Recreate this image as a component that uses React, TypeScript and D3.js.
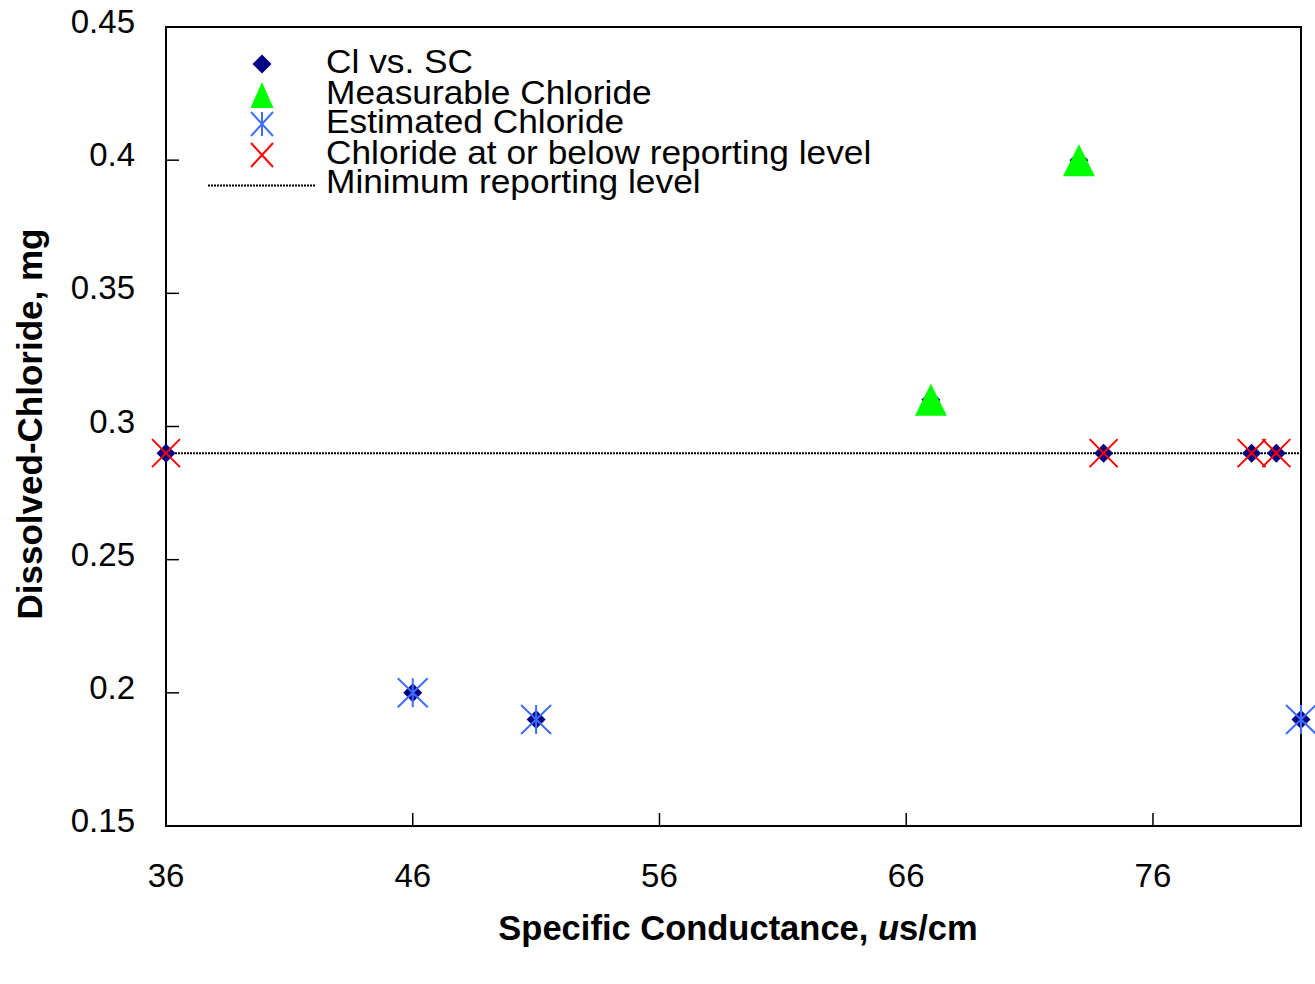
import { useEffect, useRef } from 'react';
import * as d3 from 'd3';

// Cl vs. SC (all samples)
const allSC = [36, 46, 51, 67, 73, 74, 80, 81, 82];
const allCl = [0.29, 0.2, 0.19, 0.31, 0.4, 0.29, 0.29, 0.29, 0.19];
// Measurable chloride
const measSC = [67, 73];
const measCl = [0.31, 0.4];
// Estimated chloride
const estSC = [46, 51, 82];
const estCl = [0.2, 0.19, 0.19];
// At or below reporting level
const lowSC = [36, 74, 80, 81];
const lowCl = [0.29, 0.29, 0.29, 0.29];
const reportingLevel = 0.29;

const xTicks = [36, 46, 56, 66, 76];
const yTicks = [0.15, 0.2, 0.25, 0.3, 0.35, 0.4, 0.45];
const legendLabels = [
    "Cl vs. SC",
    "Measurable Chloride",
    "Estimated Chloride",
    "Chloride at or below reporting level",
    "Minimum reporting level",
];

const NAVY = "#000080";
const GREEN = "#00ff00";
const BLUE = "#3d6dff";
const RED = "#ff0000";

export default function App() {
    const svgRef = useRef<SVGSVGElement>(null);
    const width = 1315;
    const height = 984;

    useEffect(() => {
        if (!svgRef.current) return;
        const svg = d3.select(svgRef.current);
        svg.selectAll("*").remove();

        const margin = { top: 27, right: 14, bottom: 158, left: 166 };
        const x = d3.scaleLinear().domain([36, 82]).range([margin.left, width - margin.right]);
        const y = d3.scaleLinear().domain([0.15, 0.45]).range([height - margin.bottom, margin.top]);
        const font = "'Liberation Sans', Arial, sans-serif";

        const zip = (a: number[], b: number[]) => a.map((v, i) => [v, b[i]] as [number, number]);

        // marker shapes
        const diamond = (s: number) => `M0,${-s}L${s},0L0,${s}L${-s},0Z`;
        const triangle = (w: number, h: number) => `M0,${-h / 2}L${w / 2},${h / 2}L${-w / 2},${h / 2}Z`;
        const cross = (w: number, h: number) => `M${-w},${-h}L${w},${h}M${-w},${h}L${w},${-h}`;
        const asterisk = (w: number, h: number) => cross(w, h) + `M0,${-h}L0,${h}`;

        // reporting level line
        svg.append("line")
            .attr("x1", x(36)).attr("x2", x(82))
            .attr("y1", y(reportingLevel)).attr("y2", y(reportingLevel))
            .attr("stroke", "#000").attr("stroke-width", 2)
            .attr("stroke-dasharray", "2,1");

        // frame
        svg.append("rect")
            .attr("x", x(36)).attr("y", y(0.45))
            .attr("width", x(82) - x(36)).attr("height", y(0.15) - y(0.45))
            .attr("fill", "none").attr("stroke", "#000").attr("stroke-width", 2);

        // ticks (inward)
        svg.selectAll(".xt").data(xTicks).enter().append("line")
            .attr("x1", d => x(d)).attr("x2", d => x(d))
            .attr("y1", y(0.15)).attr("y2", y(0.15) - 13)
            .attr("stroke", "#000").attr("stroke-width", 1.5);
        svg.selectAll(".yt").data(yTicks).enter().append("line")
            .attr("x1", x(36)).attr("x2", x(36) + 13)
            .attr("y1", d => y(d)).attr("y2", d => y(d))
            .attr("stroke", "#000").attr("stroke-width", 1.5);

        svg.selectAll(".xl").data(xTicks).enter().append("text")
            .attr("x", d => x(d)).attr("y", 887)
            .attr("text-anchor", "middle")
            .attr("font-family", font).attr("font-size", 33)
            .text(d => d);
        svg.selectAll(".yl").data(yTicks).enter().append("text")
            .attr("x", 135).attr("y", d => y(d) + 6)
            .attr("text-anchor", "end")
            .attr("font-family", font).attr("font-size", 33)
            .text(d => String(+d.toFixed(2)));

        // axis titles
        const xt = svg.append("text")
            .attr("x", 738).attr("y", 940)
            .attr("text-anchor", "middle")
            .attr("font-family", font).attr("font-size", 34.5).attr("font-weight", "bold");
        xt.append("tspan").text("Specific Conductance, ");
        xt.append("tspan").attr("font-style", "italic").text("u");
        xt.append("tspan").text("s/cm");

        svg.append("text")
            .attr("transform", `translate(42,424) rotate(-90)`)
            .attr("text-anchor", "middle")
            .attr("font-family", font).attr("font-size", 35).attr("font-weight", "bold")
            .text("Dissolved-Chloride, mg");

        // points
        svg.selectAll(".dia").data(zip(allSC, allCl)).enter().append("path")
            .attr("transform", d => `translate(${x(d[0])},${y(d[1])})`)
            .attr("d", diamond(9.5)).attr("fill", NAVY);
        svg.selectAll(".tri").data(zip(measSC, measCl)).enter().append("path")
            .attr("transform", d => `translate(${x(d[0])},${y(d[1])})`)
            .attr("d", triangle(32, 32)).attr("fill", GREEN);
        svg.selectAll(".ast").data(zip(estSC, estCl)).enter().append("path")
            .attr("transform", d => `translate(${x(d[0])},${y(d[1])})`)
            .attr("d", asterisk(15, 14.5)).attr("fill", "none")
            .attr("stroke", BLUE).attr("stroke-width", 2);
        svg.selectAll(".crs").data(zip(lowSC, lowCl)).enter().append("path")
            .attr("transform", d => `translate(${x(d[0])},${y(d[1])})`)
            .attr("d", cross(14, 14)).attr("fill", "none")
            .attr("stroke", RED).attr("stroke-width", 2);

        // legend
        const rowY = [64, 95, 124, 155, 184];
        const lx = 262;
        const leg = svg.append("g");
        leg.append("path").attr("transform", `translate(${lx},${rowY[0]})`)
            .attr("d", diamond(9.5)).attr("fill", NAVY);
        leg.append("path").attr("transform", `translate(${lx},${rowY[1]})`)
            .attr("d", triangle(23, 26)).attr("fill", GREEN);
        leg.append("path").attr("transform", `translate(${lx},${rowY[2]})`)
            .attr("d", asterisk(11, 12)).attr("fill", "none")
            .attr("stroke", BLUE).attr("stroke-width", 2);
        leg.append("path").attr("transform", `translate(${lx},${rowY[3]})`)
            .attr("d", cross(11, 12)).attr("fill", "none")
            .attr("stroke", RED).attr("stroke-width", 2);
        leg.append("line")
            .attr("x1", 208).attr("x2", 315).attr("y1", rowY[4] + 1.5).attr("y2", rowY[4] + 1.5)
            .attr("stroke", "#000").attr("stroke-width", 2).attr("stroke-dasharray", "2,1");
        // the original legend type is a bit wider than Liberation Sans
        leg.selectAll(".lt").data(legendLabels).enter().append("text")
            .attr("transform", (d, i) => `translate(326,${rowY[i] + 8.5}) scale(1.07,1)`)
            .attr("font-family", font).attr("font-size", 33)
            .text(d => d);
    }, []);

    return (
        <svg
            ref={svgRef}
            width={width}
            height={height}
            style={{ position: "absolute", left: 0, top: 0, background: "#fff" }}
        />
    );
}
